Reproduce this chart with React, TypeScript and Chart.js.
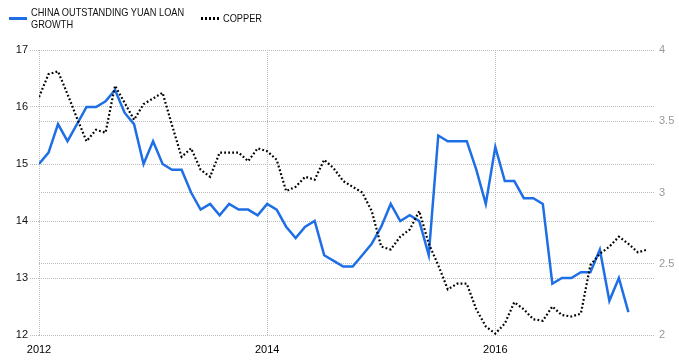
import React, { useEffect, useRef } from "react";
import { Chart, registerables } from "chart.js";

Chart.register(...registerables);

// Monthly values, Jan 2012 onward
const loanGrowth: number[] = [
  15.0, 15.2, 15.7, 15.4, 15.7, 16.0, 16.0, 16.1, 16.3, 15.9, 15.7, 15.0,
  15.4, 15.0, 14.9, 14.9, 14.5, 14.2, 14.3, 14.1, 14.3, 14.2, 14.2, 14.1,
  14.3, 14.2, 13.9, 13.7, 13.9, 14.0, 13.4, 13.3, 13.2, 13.2, 13.4, 13.6,
  13.9, 14.3, 14.0, 14.1, 14.0, 13.4, 15.5, 15.4, 15.4, 15.4, 14.9, 14.3,
  15.3, 14.7, 14.7, 14.4, 14.4, 14.3, 12.9, 13.0, 13.0, 13.1, 13.1, 13.5,
  12.6, 13.0, 12.4,
];

const copper: number[] = [
  3.67, 3.83, 3.85, 3.69, 3.52, 3.36, 3.44, 3.42, 3.75, 3.63, 3.51, 3.62,
  3.66, 3.70, 3.47, 3.25, 3.31, 3.16, 3.11, 3.28, 3.28, 3.28, 3.22, 3.31,
  3.29, 3.23, 3.01, 3.04, 3.11, 3.09, 3.23, 3.17, 3.08, 3.04, 3.00, 2.87,
  2.62, 2.60, 2.69, 2.74, 2.87, 2.64, 2.49, 2.32, 2.36, 2.36, 2.18, 2.06,
  2.01, 2.08, 2.23, 2.18, 2.11, 2.10, 2.20, 2.14, 2.13, 2.15, 2.49, 2.57,
  2.62, 2.69, 2.64, 2.58, 2.60,
];

const xTickMonths: number[] = [0, 24, 48];
const xTickLabels: string[] = ["2012", "2014", "2016"];
const leftTicks: number[] = [12, 13, 14, 15, 16, 17];
const rightTicks: number[] = [2, 2.5, 3, 3.5, 4];

const LOAN_LABEL = "CHINA OUTSTANDING YUAN LOAN GROWTH";
const COPPER_LABEL = "COPPER";

const FONT = "'Liberation Sans', Arial, sans-serif";
const GRID = "#bcbcbc";
const BLUE = "#1e6fe6";

export default function App() {
  const ref = useRef<HTMLCanvasElement | null>(null);

  useEffect(() => {
    if (!ref.current) return;
    const chart = new Chart(ref.current, {
      type: "line",
      data: {
        datasets: [
          {
            label: LOAN_LABEL,
            data: loanGrowth.map((v, i) => ({ x: i, y: v })),
            yAxisID: "y",
            borderColor: BLUE,
            borderWidth: 2.5,
            pointRadius: 0,
            tension: 0,
            fill: false,
            order: 1,
          },
          {
            label: COPPER_LABEL,
            data: copper.map((v, i) => ({ x: i, y: v })),
            yAxisID: "y1",
            borderColor: "#000",
            borderWidth: 2.2,
            borderDash: [1.8, 2.2],
            pointRadius: 0,
            tension: 0,
            fill: false,
            order: 0,
          },
        ],
      },
      options: {
        animation: false,
        responsive: false,
        devicePixelRatio: 1,
        layout: { padding: { top: 50, left: 0, right: 0, bottom: 0 } },
        plugins: { legend: { display: false }, tooltip: { enabled: false } },
        scales: {
          x: {
            type: "linear",
            min: 0,
            max: 64.8,
            afterBuildTicks: (s: any) => {
              s.ticks = xTickMonths.map((v) => ({ value: v }));
            },
            afterFit: (s: any) => {
              s.height = 29;
            },
            ticks: {
              autoSkip: false,
              maxRotation: 0,
              padding: 8,
              color: "#000",
              font: { family: FONT, size: 11 },
              callback: (v: any) => {
                const i = xTickMonths.indexOf(Number(v));
                return i >= 0 ? xTickLabels[i] : "";
              },
            },
            grid: { color: GRID, drawTicks: false, lineWidth: 1 },
            border: { display: false, dash: [1, 1] },
          },
          y: {
            position: "left",
            min: 12,
            max: 17,
            afterBuildTicks: (s: any) => {
              s.ticks = leftTicks.map((v) => ({ value: v }));
            },
            afterFit: (s: any) => {
              s.width = 39;
            },
            ticks: {
              padding: 2,
              color: "#111",
              font: { family: FONT, size: 11 },
              callback: (v: any) => String(v),
            },
            grid: {
              color: GRID,
              tickLength: 9,
              tickColor: GRID,
              tickBorderDash: [1, 1],
            },
            border: { display: false, dash: [1, 1] },
          },
          y1: {
            position: "right",
            min: 2,
            max: 4,
            afterBuildTicks: (s: any) => {
              s.ticks = rightTicks.map((v) => ({ value: v }));
            },
            afterFit: (s: any) => {
              s.width = 24;
            },
            ticks: {
              padding: 4,
              color: "#999",
              font: { family: FONT, size: 11 },
              callback: (v: any) => String(v),
            },
            grid: { color: GRID, drawTicks: false },
            border: { display: false, dash: [1, 1] },
          },
        },
      },
    } as any);
    return () => chart.destroy();
  }, []);

  const textStyle: React.CSSProperties = {
    position: "absolute",
    fontFamily: FONT,
    fontSize: "11px",
    lineHeight: "11.5px",
    color: "#111",
    transform: "scaleX(0.84)",
    transformOrigin: "left top",
    whiteSpace: "nowrap",
  };

  return (
    <div style={{ position: "absolute", left: 0, top: 0, width: 679, height: 364, background: "#fff" }}>
      <canvas ref={ref} width={679} height={364} style={{ position: "absolute", left: 0, top: 0 }} />
      <div style={{ position: "absolute", left: 9, top: 17, width: 18, height: 2.5, background: BLUE }} />
      <div style={{ ...textStyle, left: 31, top: 7 }}>
        CHINA OUTSTANDING YUAN LOAN
        <br />
        GROWTH
      </div>
      <div
        style={{
          position: "absolute",
          left: 201,
          top: 17,
          width: 19,
          height: 2.5,
          backgroundImage: "repeating-linear-gradient(to right, #000 0px, #000 2px, transparent 2px, transparent 4px)",
        }}
      />
      <div style={{ ...textStyle, left: 223, top: 13 }}>{COPPER_LABEL}</div>
    </div>
  );
}
